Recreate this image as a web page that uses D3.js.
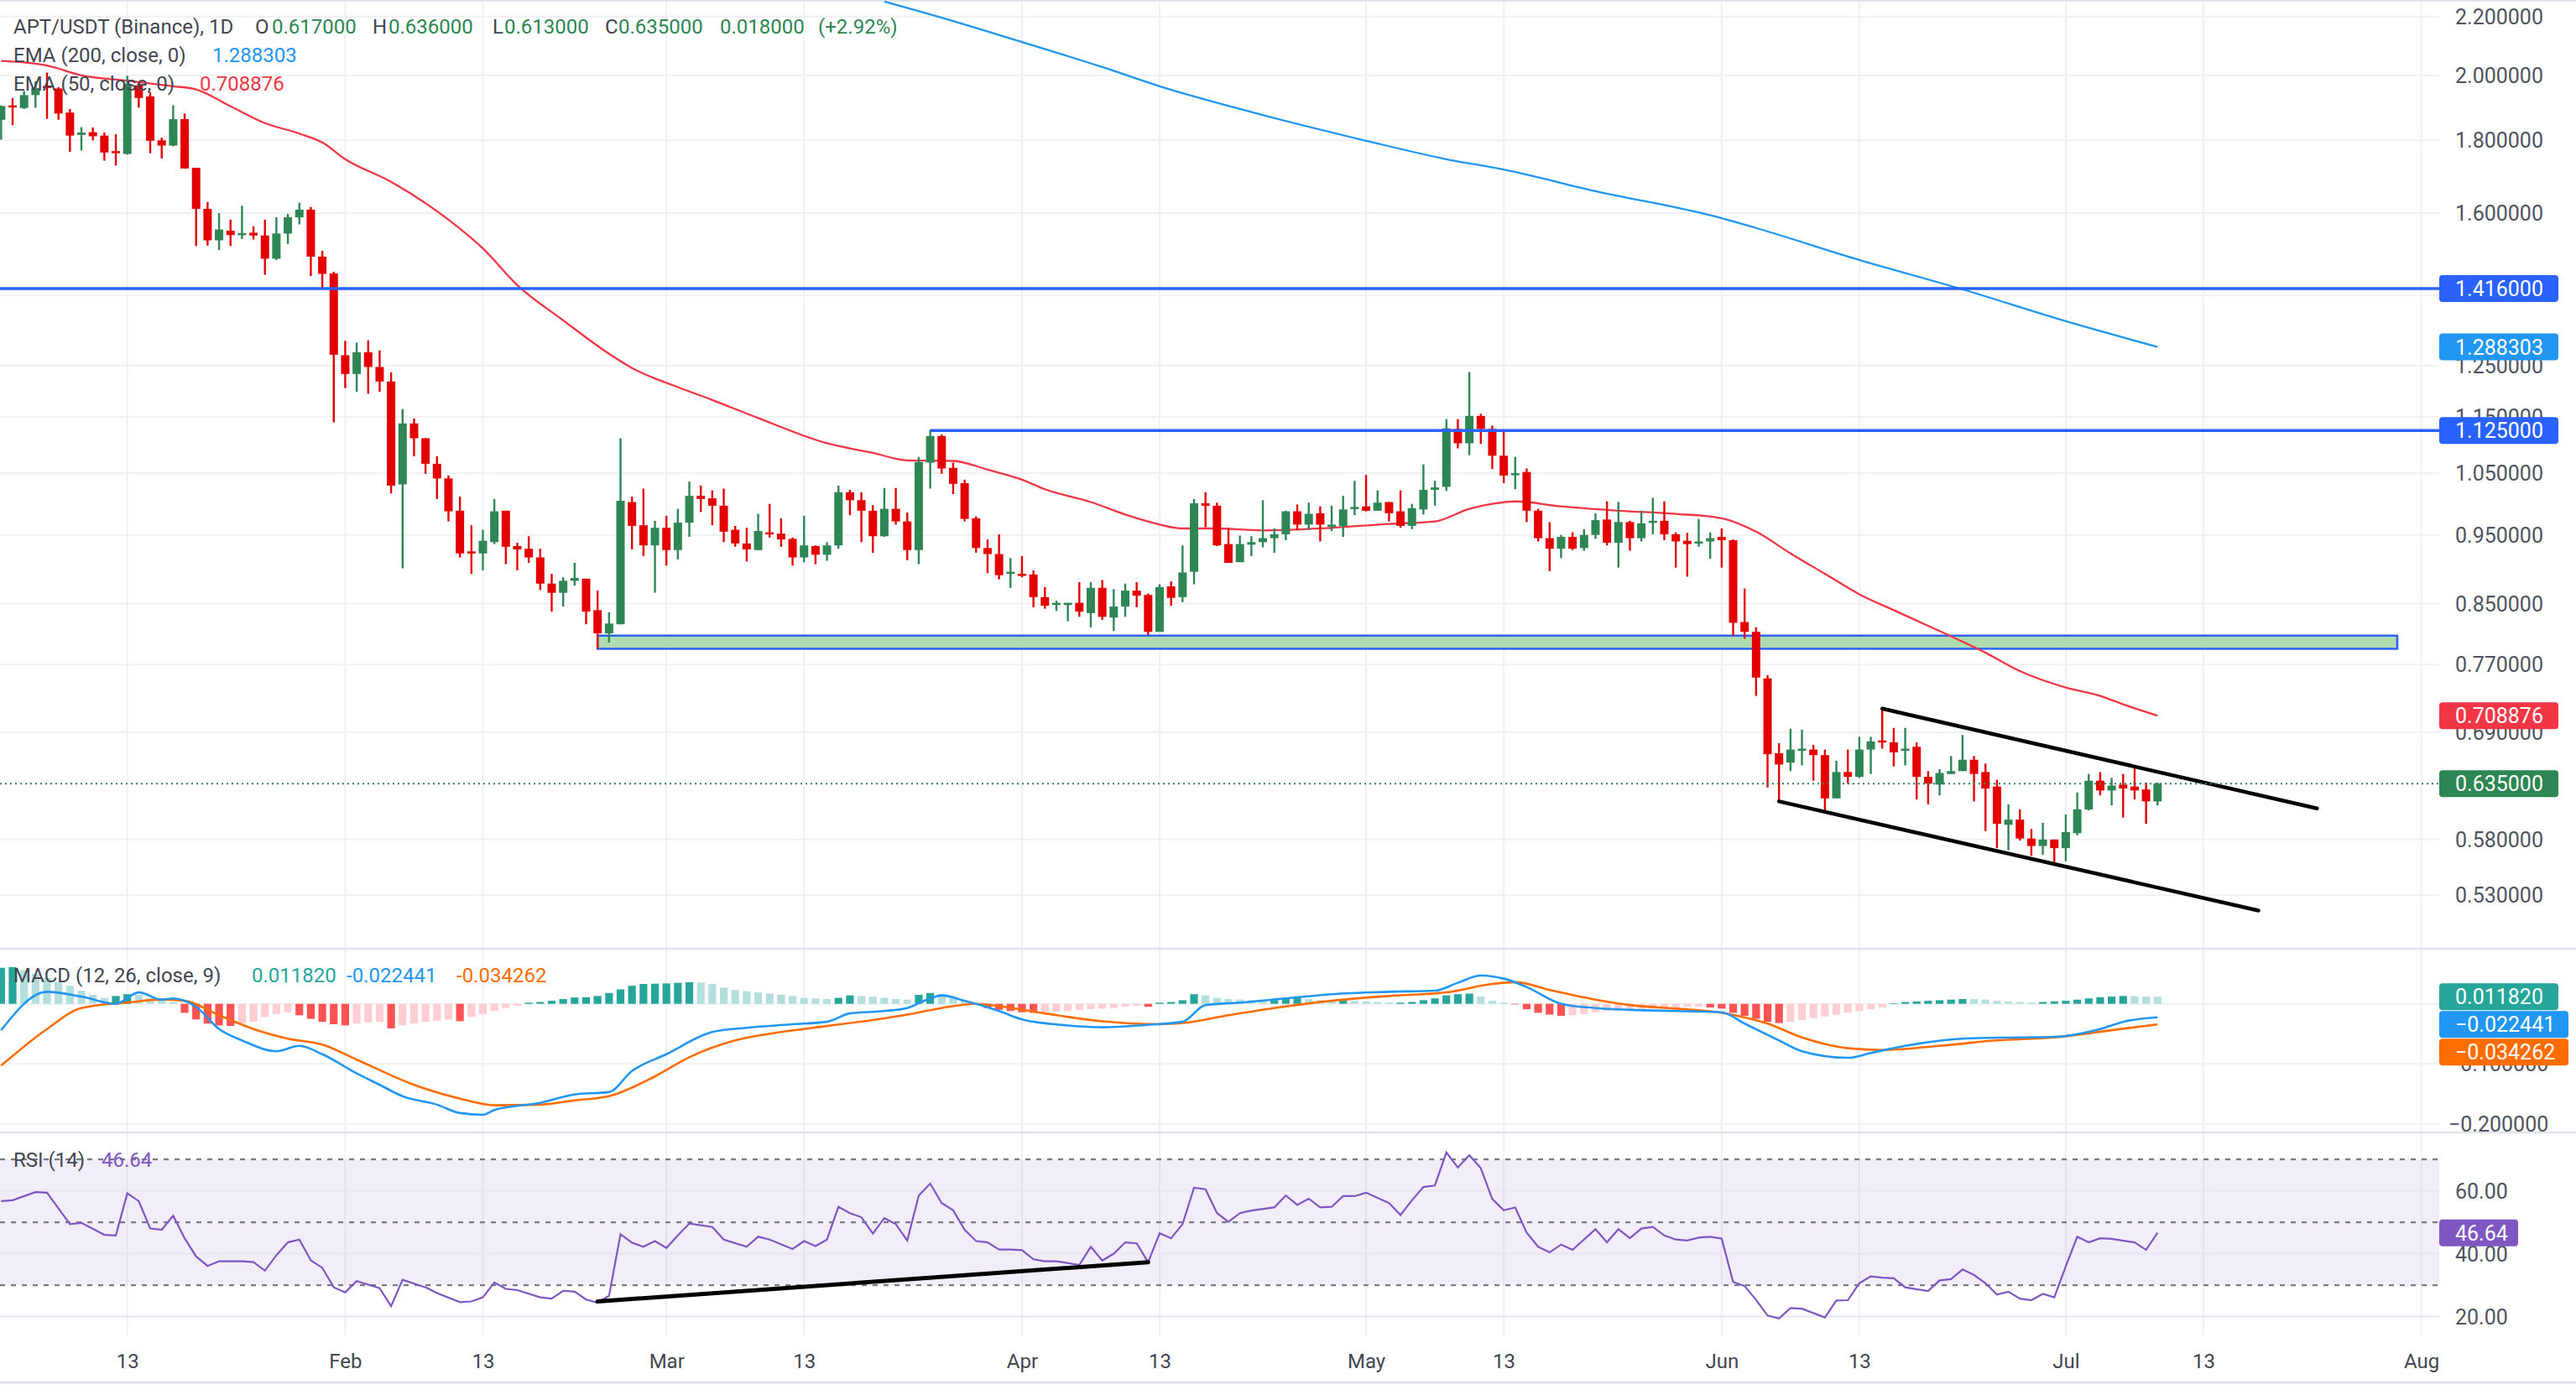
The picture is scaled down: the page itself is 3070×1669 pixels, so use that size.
<!DOCTYPE html>
<html><head><meta charset="utf-8">
<script src="https://cdn.jsdelivr.net/npm/d3@7/dist/d3.min.js"></script>
<style>
html,body{margin:0;padding:0;background:#fff;}
svg{display:block;font-family:Roboto,"Liberation Sans",sans-serif;}
</style></head><body>
<svg id="chart" width="3070" height="1669"></svg>
<script>
// ---------------- DATA ----------------
// daily candles, first candle 2025-01-02, one per day
const firstDay = "2025-01-02";
const opens = [1.861,1.905,1.897,1.937,1.966,1.958,1.883,1.816,1.824,1.814,
1.769,1.761,1.968,1.933,1.800,1.785,1.863,1.722,1.611,1.531,
1.555,1.547,1.550,1.543,1.486,1.548,1.589,1.609,1.491,1.451,
1.271,1.233,1.277,1.247,1.218,1.031,1.138,1.111,1.066,1.041,
0.988,0.925,0.922,0.939,0.988,0.933,0.929,0.916,0.878,0.865,
0.882,0.885,0.841,0.810,0.822,1.002,0.965,0.934,0.961,0.927,
0.969,1.012,1.008,0.996,0.958,0.937,0.927,0.954,0.952,0.944,
0.916,0.933,0.920,0.934,1.018,1.005,0.988,0.948,0.991,0.971,
0.927,1.068,1.115,1.059,1.033,0.976,0.930,0.921,0.893,0.892,
0.891,0.859,0.849,0.849,0.851,0.837,0.872,0.831,0.846,0.868,
0.862,0.812,0.874,0.859,0.895,1.000,0.996,0.936,0.909,0.935,
0.939,0.945,0.951,0.987,0.966,0.984,0.965,0.964,0.991,0.995,
0.988,1.002,0.987,0.964,0.990,1.022,1.027,1.128,1.102,1.152,
1.128,1.080,1.047,1.052,0.988,0.945,0.929,0.947,0.930,0.950,
0.974,0.938,0.970,0.945,0.969,0.972,0.951,0.941,0.937,0.940,
0.947,0.942,0.825,0.812,0.753,0.667,0.657,0.671,0.671,0.665,
0.620,0.647,0.642,0.671,0.681,0.679,0.670,0.674,0.642,0.634,
0.645,0.648,0.660,0.647,0.632,0.594,0.599,0.581,0.574,0.580,
0.572,0.586,0.609,0.638,0.628,0.634,0.632,0.629,0.617];
const highs = [1.905,1.928,1.950,1.981,2.009,1.962,1.894,1.839,1.838,1.823,
1.818,1.999,1.976,1.946,1.808,1.905,1.880,1.722,1.629,1.600,
1.583,1.619,1.566,1.583,1.589,1.598,1.627,1.616,1.505,1.455,
1.301,1.297,1.302,1.281,1.236,1.165,1.147,1.111,1.079,1.046,
1.011,0.965,0.958,1.007,0.988,0.938,0.948,0.929,0.892,0.887,
0.908,0.885,0.868,0.838,1.111,1.011,1.024,0.972,0.980,0.991,
1.036,1.029,1.021,1.024,0.964,0.961,0.983,0.999,0.976,0.946,
0.980,0.934,0.939,1.029,1.022,1.018,0.997,1.025,1.025,0.985,
1.078,1.126,1.118,1.068,1.039,0.979,0.943,0.951,0.915,0.918,
0.897,0.873,0.854,0.851,0.880,0.880,0.883,0.870,0.878,0.880,
0.864,0.877,0.881,0.934,1.007,1.018,1.001,0.961,0.949,0.948,
1.005,0.960,0.988,0.998,1.001,0.995,0.996,1.012,1.037,1.047,
1.021,1.002,1.021,0.999,1.065,1.037,1.146,1.146,1.237,1.156,
1.134,1.127,1.078,1.058,0.991,0.970,0.950,0.954,0.959,0.984,
1.003,1.002,0.972,0.988,1.009,1.003,0.954,0.953,0.975,0.954,
0.960,0.943,0.871,0.818,0.757,0.678,0.694,0.693,0.676,0.671,
0.659,0.671,0.685,0.685,0.717,0.695,0.695,0.679,0.648,0.650,
0.664,0.687,0.664,0.656,0.639,0.614,0.609,0.590,0.596,0.580,
0.604,0.626,0.645,0.647,0.641,0.645,0.651,0.636,0.636];
const lows = [1.802,1.845,1.894,1.898,1.864,1.861,1.767,1.771,1.800,1.742,
1.728,1.759,1.898,1.763,1.748,1.783,1.720,1.517,1.518,1.507,
1.517,1.534,1.533,1.448,1.483,1.522,1.571,1.445,1.414,1.140,
1.205,1.198,1.194,1.198,1.016,0.900,1.079,1.049,1.007,0.971,
0.916,0.892,0.897,0.936,0.906,0.897,0.908,0.869,0.839,0.846,
0.875,0.822,0.790,0.798,0.822,0.928,0.918,0.865,0.904,0.913,
0.947,0.986,0.965,0.939,0.932,0.910,0.927,0.946,0.932,0.904,
0.909,0.906,0.911,0.929,0.981,0.939,0.923,0.947,0.966,0.912,
0.906,1.024,1.049,1.015,0.971,0.923,0.893,0.884,0.872,0.887,
0.845,0.843,0.840,0.826,0.832,0.818,0.828,0.813,0.832,0.845,
0.808,0.812,0.847,0.852,0.877,0.962,0.933,0.908,0.909,0.918,
0.931,0.923,0.942,0.957,0.958,0.940,0.956,0.947,0.981,0.987,
0.988,0.971,0.961,0.959,0.982,0.996,1.020,1.093,1.081,1.101,
1.057,1.033,1.023,0.970,0.940,0.896,0.915,0.927,0.926,0.944,
0.934,0.901,0.926,0.940,0.951,0.942,0.901,0.888,0.932,0.914,
0.901,0.807,0.803,0.732,0.631,0.617,0.648,0.654,0.638,0.608,
0.620,0.635,0.641,0.645,0.672,0.653,0.654,0.619,0.614,0.623,
0.645,0.648,0.617,0.588,0.572,0.570,0.579,0.565,0.566,0.556,
0.560,0.584,0.608,0.623,0.613,0.601,0.619,0.595,0.613];
const closes = [1.903,1.900,1.937,1.959,1.963,1.880,1.814,1.823,1.812,1.765,
1.766,1.972,1.928,1.799,1.785,1.863,1.720,1.611,1.531,1.558,
1.544,1.549,1.543,1.486,1.548,1.589,1.609,1.491,1.450,1.272,
1.233,1.277,1.247,1.218,1.029,1.138,1.111,1.066,1.041,0.987,
0.922,0.923,0.941,0.987,0.932,0.928,0.916,0.878,0.865,0.882,
0.886,0.839,0.810,0.823,1.004,0.964,0.934,0.961,0.927,0.969,
1.012,1.007,0.996,0.955,0.937,0.928,0.956,0.951,0.943,0.916,
0.934,0.920,0.934,1.018,1.005,0.988,0.948,0.991,0.971,0.927,
1.069,1.115,1.058,1.032,0.975,0.930,0.921,0.890,0.895,0.889,
0.859,0.847,0.851,0.851,0.839,0.872,0.832,0.846,0.868,0.861,
0.812,0.873,0.858,0.894,1.000,0.996,0.934,0.908,0.936,0.939,
0.945,0.951,0.987,0.966,0.983,0.966,0.966,0.990,0.994,0.988,
1.001,0.984,0.964,0.992,1.022,1.026,1.129,1.102,1.152,1.128,
1.080,1.046,1.050,0.988,0.945,0.929,0.947,0.929,0.950,0.973,
0.938,0.970,0.945,0.968,0.972,0.951,0.940,0.936,0.940,0.945,
0.942,0.824,0.812,0.754,0.666,0.655,0.671,0.672,0.665,0.620,
0.647,0.642,0.671,0.680,0.679,0.668,0.672,0.642,0.635,0.646,
0.648,0.660,0.645,0.630,0.595,0.599,0.581,0.574,0.580,0.572,
0.587,0.609,0.638,0.628,0.633,0.630,0.628,0.617,0.635];

// sparse indicator readings; day = days since 2025-01-01
const ema200Day = [78,84,90,97,102,109,120,127,132,140,151,154,163,172,181,189];
const ema200Val = [2.254,2.184,2.111,2.027,1.965,1.894,1.799,1.746,1.717,1.658,1.587,1.562,1.483,1.414,1.343,1.288303];
const ema50Day = [1,5,8,12,16,18,21,24,27,29,31,35,40,43,46,50,54,56,60,63,67,73,77,80,84,87,90,92,96,99,101,104,107,111,117,122,126,129,131,133,137,142,147,151,154,157,160,163,166,170,174,177,181,184,186,189];
const ema50Val = [2.047,2.032,2.000,1.983,1.965,1.955,1.902,1.851,1.820,1.794,1.746,1.683,1.583,1.511,1.424,1.345,1.274,1.245,1.207,1.182,1.148,1.102,1.085,1.072,1.071,1.056,1.039,1.023,1.002,0.982,0.971,0.960,0.960,0.957,0.961,0.967,0.971,0.991,0.999,1.003,0.995,0.988,0.983,0.976,0.955,0.922,0.892,0.863,0.841,0.813,0.785,0.762,0.742,0.732,0.722,0.708876];

const macdDay = [1,5,8,11,13,15,16,18,20,22,25,27,29,32,34,36,39,41,43,44,48,51,54,56,59,63,66,70,73,75,78,80,82,83,85,88,90,94,97,101,104,106,109,113,117,122,126,128,130,132,134,137,140,143,147,151,153,156,158,162,164,167,172,177,180,184,186,189];
const macdVal = [-0.044,0.020,0.012,0.000,0.019,0.007,0.009,-0.005,-0.042,-0.061,-0.079,-0.070,-0.084,-0.116,-0.135,-0.154,-0.168,-0.182,-0.185,-0.177,-0.165,-0.151,-0.147,-0.112,-0.084,-0.047,-0.040,-0.034,-0.030,-0.016,-0.012,-0.007,0.009,0.014,0.005,-0.012,-0.026,-0.036,-0.039,-0.035,-0.030,-0.002,0.002,0.009,0.016,0.020,0.022,0.035,0.047,0.042,0.028,0.000,-0.007,-0.010,-0.012,-0.014,-0.033,-0.061,-0.079,-0.090,-0.082,-0.070,-0.058,-0.056,-0.055,-0.042,-0.030,-0.022441];
const signalDay = [1,5,8,12,15,17,20,23,26,29,32,37,41,44,48,51,54,58,61,65,69,73,77,80,83,86,88,92,97,102,104,108,112,117,122,127,131,133,136,140,143,147,151,155,158,162,165,170,175,180,185,189];
const signalVal = [-0.103,-0.042,-0.007,0.002,0.007,0.005,-0.019,-0.042,-0.058,-0.068,-0.093,-0.135,-0.158,-0.169,-0.168,-0.161,-0.154,-0.121,-0.089,-0.061,-0.047,-0.037,-0.027,-0.018,-0.007,0.000,-0.004,-0.016,-0.029,-0.034,-0.032,-0.019,-0.007,0.005,0.013,0.019,0.033,0.036,0.023,0.007,-0.002,-0.008,-0.015,-0.033,-0.056,-0.074,-0.077,-0.070,-0.061,-0.056,-0.044,-0.034262];
// histogram, one bar per candle
const histVal = [0.060,0.061,0.056,0.050,0.043,0.036,0.030,0.022,0.015,0.010,
0.013,0.016,0.015,0.009,0.006,0.003,-0.015,-0.026,-0.033,-0.036,
-0.037,-0.033,-0.030,-0.022,-0.017,-0.014,-0.019,-0.025,-0.030,-0.034,
-0.036,-0.033,-0.031,-0.030,-0.041,-0.036,-0.033,-0.030,-0.028,-0.026,
-0.029,-0.022,-0.017,-0.012,-0.007,-0.003,0.002,0.003,0.005,0.008,
0.0105,0.011,0.013,0.018,0.024,0.030,0.033,0.0335,0.034,0.035,
0.036,0.0355,0.033,0.027,0.023,0.021,0.019,0.017,0.015,0.013,
0.010,0.009,0.008,0.010,0.014,0.013,0.012,0.010,0.008,0.007,
0.015,0.018,0.016,0.010,0.004,0.001,-0.007,-0.010,-0.012,-0.014,
-0.015,-0.014,-0.013,-0.012,-0.010,-0.009,-0.008,-0.007,-0.005,-0.003,
-0.005,0.002,0.003,0.006,0.016,0.014,0.010,0.008,0.007,0.006,
0.005,0.006,0.009,0.010,0.008,0.006,0.005,0.006,0.005,0.004,
0.003,0.002,0.002,0.003,0.006,0.009,0.014,0.016,0.017,0.012,
0.005,0.002,-0.001,-0.009,-0.015,-0.018,-0.020,-0.019,-0.017,-0.014,
-0.012,-0.011,-0.010,-0.009,-0.008,-0.007,-0.006,-0.005,-0.005,-0.006,
-0.008,-0.015,-0.020,-0.025,-0.030,-0.032,-0.030,-0.027,-0.024,-0.021,
-0.018,-0.015,-0.012,-0.009,-0.006,0.001,0.003,0.004,0.005,0.006,
0.007,0.008,0.0078,0.007,0.005,0.004,0.003,0.002,0.003,0.004,
0.005,0.007,0.009,0.011,0.012,0.013,0.0128,0.012,0.011820];

const rsiDay = [1,2,4,5,7,8,10,11,12,13,14,15,16,17,18,19,20,22,23,24,25,26,27,28,29,30,31,32,34,35,36,38,39,41,42,43,44,45,46,48,49,50,51,52,53,54,55,56,57,58,59,60,61,63,64,66,67,68,70,71,72,73,74,75,76,77,78,79,80,81,82,83,84,85,86,87,88,89,90,91,92,93,95,96,97,98,99,100,101,102,103,104,105,106,107,108,109,110,112,113,114,115,116,117,118,119,120,122,123,124,125,126,127,128,129,130,131,132,133,134,135,136,137,138,139,140,141,142,143,144,145,146,147,148,149,150,151,152,153,154,155,156,157,158,160,161,162,163,164,165,166,167,169,170,171,172,173,174,175,176,177,178,179,180,181,182,183,184,185,187,188,189];
const rsiVal = [56.7,57.0,59.6,59.4,49.4,49.8,46.0,45.8,59.2,56.7,48.0,47.6,52.1,44.9,39.1,36.1,37.6,37.6,37.3,34.6,39.5,43.6,44.5,37.9,35.5,29.3,27.7,31.3,29.0,23.3,31.7,29.3,27.5,24.6,24.8,26.1,30.8,28.8,28.4,26.1,25.7,28.2,27.9,25.4,24.4,26.6,46.2,43.5,42.2,44.0,41.8,45.8,49.6,48.5,44.5,42.2,45.4,44.5,41.5,44.0,42.4,44.5,54.9,52.9,51.6,46.4,51.3,49.4,44.2,58.5,62.3,56.1,53.8,47.6,44.0,43.6,41.3,41.3,41.1,38.2,37.6,37.6,36.4,42.2,37.8,40.0,43.6,43.3,37.3,46.5,44.9,49.4,61.0,60.5,52.9,50.1,52.9,53.7,54.7,58.5,55.5,57.5,54.7,54.9,58.3,58.3,59.4,56.1,52.3,57.0,61.2,61.7,72.2,67.4,71.3,67.2,57.4,53.8,54.7,46.7,42.2,40.4,42.9,41.2,44.5,47.8,43.6,47.8,44.9,48.0,48.5,45.8,44.5,44.2,45.1,45.4,44.8,31.0,29.7,25.3,20.3,19.4,22.7,22.5,19.7,25.1,25.2,30.6,32.8,32.4,32.2,29.3,28.1,31.5,31.9,35.0,33.2,30.6,27.0,27.9,25.7,25.2,27.2,26.1,36.0,45.4,43.6,44.9,44.7,43.6,41.2,46.64];

// levels and drawings
const resistHigh = 1.416;
const resistMid = 1.125, resistMidFromDay = 82;
const zoneLow = 0.790, zoneHigh = 0.807, zoneFromDay = 53, zoneToDay = 209.9;
const channelUpper = [[165, 0.717], [202.9, 0.610]];
const channelLower = [[156, 0.617], [197.8, 0.517]];
const rsiDivergence = [[53, 24.8], [101, 37.3]];
const priceTicks = [2.2, 2.0, 1.8, 1.6, 1.25, 1.15, 1.05, 0.95, 0.85, 0.77, 0.69, 0.58, 0.53];
const priceGrid = [2.2, 2.0, 1.8, 1.6, 1.4, 1.25, 1.15, 1.05, 0.95, 0.85, 0.77, 0.69, 0.58, 0.53];
const macdGrid = [0, -0.1, -0.2];
const macdTicks = [-0.1, -0.2];
const rsiTicks = [60, 40, 20];
const rsiBands = [70, 50, 30];
const timeTicks = ["2025-01-13","2025-02-01","2025-02-13","2025-03-01","2025-03-13","2025-04-01","2025-04-13","2025-05-01","2025-05-13","2025-06-01","2025-06-13","2025-07-01","2025-07-13","2025-08-01"];

// ---------------- DRAW ----------------
const DAY = 864e5;
const base = Date.UTC(2025,0,1);
const dayToDate = d => new Date(base + d*DAY);
const parse = s => new Date(s + "T00:00:00Z");
const first = parse(firstDay);
const candles = opens.map((o,i)=>({date:new Date(+first + i*DAY), o, h:highs[i], l:lows[i], c:closes[i]}));

const PR = 2907; // plot right
const MAIN = [0,1131], MACDP = [1131,1349], RSIP = [1351,1592];
const GREEN = "#2e8655", RED = "#e50000", GRID = "#f0f1f4", TXT = "#434651", AX = "#50535e";
const FONT_AX = 25;

const svg = d3.select("#chart");
svg.append("rect").attr("width",3070).attr("height",1669).attr("fill","#fff");

const x = d3.scaleUtc().domain([parse("2025-01-13"), parse("2025-08-01")]).range([151.7, 2885.7]);
const y = d3.scaleLog().domain([0.486, 2.2596]).range([MAIN[1], MAIN[0]]);
const ym = d3.scaleLinear().domain([-0.2129, 0.0918]).range([MACDP[1], MACDP[0]]);
const yr = d3.scaleLinear().domain([14.0, 78.3]).range([RSIP[1], RSIP[0]]);

const defs = svg.append("defs");
function clip(id, y0, y1){ defs.append("clipPath").attr("id",id).append("rect").attr("x",0).attr("y",y0).attr("width",PR).attr("height",y1-y0); }
clip("cMain", MAIN[0], MAIN[1]); clip("cMacd", MACDP[0], MACDP[1]); clip("cRsi", RSIP[0], RSIP[1]);

// vertical grid
const tickDates = timeTicks.map(parse);
svg.append("g").selectAll("line").data(tickDates).join("line")
  .attr("x1",d=>x(d)).attr("x2",d=>x(d)).attr("y1",0).attr("y2",RSIP[1])
  .attr("stroke",GRID).attr("stroke-width",2);

// horizontal grid main
svg.append("g").selectAll("line").data(priceGrid).join("line")
  .attr("x1",0).attr("x2",PR).attr("y1",d=>y(d)).attr("y2",d=>y(d))
  .attr("stroke",GRID).attr("stroke-width",2);
// macd grid
svg.append("g").selectAll("line").data(macdGrid).join("line")
  .attr("x1",0).attr("x2",PR).attr("y1",d=>ym(d)).attr("y2",d=>ym(d))
  .attr("stroke",GRID).attr("stroke-width",2);
// rsi band + grid
svg.append("rect").attr("x",0).attr("width",PR).attr("y",yr(70)).attr("height",yr(30)-yr(70)).attr("fill","rgba(126,87,194,0.1)");
svg.append("g").selectAll("line").data(rsiTicks).join("line")
  .attr("x1",0).attr("x2",PR).attr("y1",d=>yr(d)).attr("y2",d=>yr(d))
  .attr("stroke","#e9e6f1").attr("stroke-width",2);
svg.append("g").selectAll("line").data(rsiBands).join("line")
  .attr("x1",0).attr("x2",PR).attr("y1",d=>yr(d)).attr("y2",d=>yr(d))
  .attr("stroke","#787b86").attr("stroke-width",2.2).attr("stroke-dasharray","6,7");

// pane separators / frame
[MACDP[0], MACDP[1]+1].forEach(v=>svg.append("line").attr("x1",0).attr("x2",3070).attr("y1",v).attr("y2",v).attr("stroke","#e0e3eb").attr("stroke-width",2.5));
svg.append("line").attr("x1",0).attr("x2",3070).attr("y1",1).attr("y2",1).attr("stroke","#e0e3eb").attr("stroke-width",2);
svg.append("line").attr("x1",0).attr("x2",3070).attr("y1",1648).attr("y2",1648).attr("stroke","#e0e3eb").attr("stroke-width",3);

// ---- main pane
const gm = svg.append("g").attr("clip-path","url(#cMain)");
// zone
gm.append("rect").attr("x",x(dayToDate(zoneFromDay))).attr("width",x(dayToDate(zoneToDay))-x(dayToDate(zoneFromDay)))
  .attr("y",y(zoneHigh)).attr("height",y(zoneLow)-y(zoneHigh))
  .attr("fill","#b0dcb2").attr("stroke","#2962ff").attr("stroke-width",2.5);

const lineP = d3.line().x(d=>x(dayToDate(d[0]))).y(d=>y(d[1])).curve(d3.curveMonotoneX);
gm.append("path").attr("d",lineP(ema200Day.map((d,i)=>[d,ema200Val[i]]))).attr("fill","none").attr("stroke","#2196f3").attr("stroke-width",2.3);
gm.append("path").attr("d",lineP(ema50Day.map((d,i)=>[d,ema50Val[i]]))).attr("fill","none").attr("stroke","#f23645").attr("stroke-width",2.3);

// candles
const bw = 10;
const cg = gm.append("g");
cg.selectAll("line").data(candles).join("line")
  .attr("x1",d=>x(d.date)).attr("x2",d=>x(d.date)).attr("y1",d=>y(d.h)).attr("y2",d=>y(d.l))
  .attr("stroke",d=>d.c>=d.o?GREEN:RED).attr("stroke-width",2.4);
cg.selectAll("rect").data(candles).join("rect")
  .attr("x",d=>x(d.date)-bw/2).attr("width",bw)
  .attr("y",d=>y(Math.max(d.o,d.c))).attr("height",d=>Math.max(2.5, Math.abs(y(d.o)-y(d.c))))
  .attr("fill",d=>d.c>=d.o?GREEN:RED);

// horizontal levels
gm.append("line").attr("x1",0).attr("x2",PR).attr("y1",y(resistHigh)).attr("y2",y(resistHigh)).attr("stroke","#2962ff").attr("stroke-width",3.5);
gm.append("line").attr("x1",x(dayToDate(resistMidFromDay))).attr("x2",PR).attr("y1",y(resistMid)).attr("y2",y(resistMid)).attr("stroke","#2962ff").attr("stroke-width",3.5);

// channel
const lineS = d3.line().x(d=>x(dayToDate(d[0]))).y(d=>y(d[1]));
[channelUpper, channelLower].forEach(c=>gm.append("path").attr("d",lineS(c)).attr("stroke","#000").attr("stroke-width",4.5).attr("fill","none").attr("stroke-linecap","round"));

// current price line
const last = candles[candles.length-1];
gm.append("line").attr("x1",0).attr("x2",PR).attr("y1",y(last.c)).attr("y2",y(last.c)).attr("stroke",GREEN).attr("stroke-width",2).attr("stroke-dasharray","2,4");

// ---- MACD pane
const gmac = svg.append("g").attr("clip-path","url(#cMacd)");
gmac.selectAll("rect").data(histVal).join("rect")
  .attr("x",(v,i)=>x(candles[i].date)-4.6).attr("width",9.2)
  .attr("y",v=>Math.min(ym(v),ym(0))).attr("height",v=>Math.abs(ym(v)-ym(0)))
  .attr("fill",(v,i)=>{const p=i>0?histVal[i-1]:-1; if(v>=0) return v>=p?"#26a69a":"#b2dfdb"; return v<p?"#ff5252":"#ffcdd2";});
const lineM = d3.line().x(d=>x(dayToDate(d[0]))).y(d=>ym(d[1])).curve(d3.curveMonotoneX);
gmac.append("path").attr("d",lineM(signalDay.map((d,i)=>[d,signalVal[i]]))).attr("fill","none").attr("stroke","#ff6d00").attr("stroke-width",2.6);
gmac.append("path").attr("d",lineM(macdDay.map((d,i)=>[d,macdVal[i]]))).attr("fill","none").attr("stroke","#2196f3").attr("stroke-width",2.6);

// ---- RSI pane
const grsi = svg.append("g").attr("clip-path","url(#cRsi)");
const lineR = d3.line().x(d=>x(dayToDate(d[0]))).y(d=>yr(d[1]));
grsi.append("path").attr("d",lineR(rsiDay.map((d,i)=>[d,rsiVal[i]]))).attr("fill","none").attr("stroke","#7e57c2").attr("stroke-width",2.2);
grsi.append("path").attr("d",lineR(rsiDivergence)).attr("stroke","#000").attr("stroke-width",5).attr("fill","none").attr("stroke-linecap","round");

// ---- right scale labels
const ax = svg.append("g").attr("font-size",FONT_AX).attr("fill",AX);
ax.selectAll("text.p").data(priceTicks).join("text").attr("class","p")
  .attr("x",2926).attr("y",d=>y(d)).attr("dy","0.36em").text(d=>d.toFixed(6));
ax.selectAll("text.m").data(macdTicks).join("text").attr("class","m")
  .attr("x",d=>d<0?2918:2926).attr("y",d=>ym(d)).attr("dy","0.36em").text(d=>d.toFixed(6).replace("-","\u2212"));
ax.selectAll("text.r").data(rsiTicks).join("text").attr("class","r")
  .attr("x",2926).attr("y",d=>yr(d)).attr("dy","0.36em").text(d=>d.toFixed(2));

function box(yc, txt, fill, w){
  const g = svg.append("g");
  g.append("rect").attr("x",2907).attr("y",yc-16).attr("width",w).attr("height",32).attr("rx",4).attr("fill",fill);
  g.append("text").attr("x",2926).attr("y",yc).attr("dy","0.36em").attr("fill","#fff").attr("font-size",FONT_AX).text(txt);
}
box(y(resistHigh), resistHigh.toFixed(6), "#2962ff", 142);
box(y(ema200Val[ema200Val.length-1]), ema200Val[ema200Val.length-1].toFixed(6), "#2196f3", 142);
box(y(resistMid), resistMid.toFixed(6), "#2962ff", 142);
box(y(ema50Val[ema50Val.length-1]), ema50Val[ema50Val.length-1].toFixed(6), "#f23645", 142);
box(y(last.c), last.c.toFixed(6), GREEN, 142);
const hLast = histVal[histVal.length-1], mLast = macdVal[macdVal.length-1], sLast = signalVal[signalVal.length-1];
const mBase = ym(hLast);
box(mBase, hLast.toFixed(6), "#26a69a", 142);
box(mBase+33, mLast.toFixed(6).replace("-","\u2212"), "#2196f3", 154);
box(mBase+66, sLast.toFixed(6).replace("-","\u2212"), "#ff6d00", 154);
const rLast = rsiVal[rsiVal.length-1];
box(yr(rLast), rLast.toFixed(2), "#7e57c2", 94);

// ---- time axis
const xAxis = d3.axisBottom(x).tickValues(tickDates).tickSize(0)
  .tickFormat(d=>d.getUTCDate()===1 ? d3.utcFormat("%b")(d) : String(d.getUTCDate()));
const gx = svg.append("g").attr("transform",`translate(0,${RSIP[1]})`).call(xAxis);
gx.select(".domain").remove();
gx.selectAll("text").attr("y",30).attr("dy","0.36em").attr("font-size",24).attr("fill",TXT).attr("font-family","Roboto");

// ---- legends
const leg = svg.append("g").attr("font-size",24);
function legend(yb, parts){
  const t = leg.append("text").attr("y",yb);
  parts.forEach(p=>t.append("tspan").attr("x",p[0]).attr("fill",p[2]).text(p[1]));
}
const fmt = v=>v.toFixed(6);
const chg = last.c - last.o;
legend(40, [[16,"APT/USDT (Binance), 1D",TXT],[304,"O",TXT],[324,fmt(last.o),GREEN],[444,"H",TXT],[463,fmt(last.h),GREEN],[587,"L",TXT],[601,fmt(last.l),GREEN],[721,"C",TXT],[737,fmt(last.c),GREEN],[858,fmt(chg),GREEN],[975,"(+"+(chg/last.o*100).toFixed(2)+"%)",GREEN]]);
legend(74, [[16,"EMA (200, close, 0)",TXT],[253,fmt(ema200Val[ema200Val.length-1]),"#2196f3"]]);
legend(108, [[16,"EMA (50, close, 0)",TXT],[238,fmt(ema50Val[ema50Val.length-1]),"#f23645"]]);
legend(1171, [[16,"MACD (12, 26, close, 9)",TXT],[300,fmt(hLast),"#26a69a"],[413,fmt(mLast),"#2196f3"],[544,fmt(sLast),"#ff6d00"]]);
legend(1391, [[16,"RSI (14)",TXT],[121,rLast.toFixed(2),"#7e57c2"]]);
</script>
</body></html>
